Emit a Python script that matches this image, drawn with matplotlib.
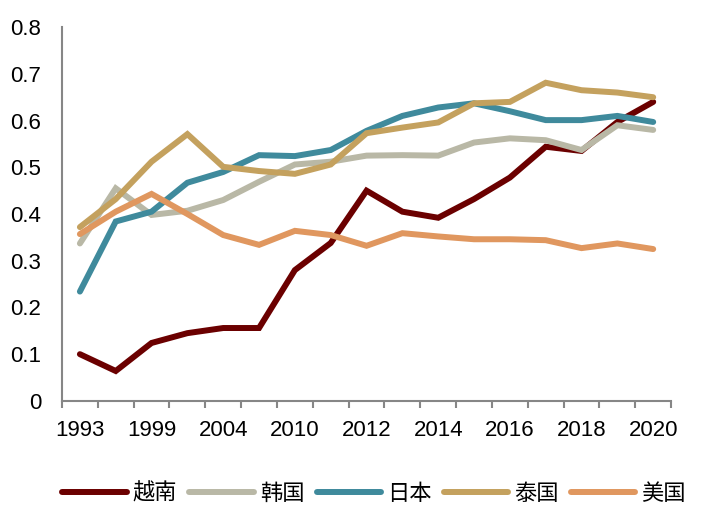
import numpy as np
import matplotlib
matplotlib.use('Agg')
import matplotlib.pyplot as plt

plt.rcParams['font.family'] = ['Liberation Sans', 'Noto Sans CJK SC', 'DejaVu Sans']

years = ['1993', '1996', '1999', '2002', '2004', '2007', '2010', '2011', '2012',
         '2013', '2014', '2015', '2016', '2017', '2018', '2019', '2020']
vietnam = [0.100, 0.064, 0.124, 0.145, 0.156, 0.156, 0.280, 0.338, 0.450,
           0.405, 0.392, 0.432, 0.478, 0.544, 0.535, 0.597, 0.640]
korea = [0.337, 0.455, 0.398, 0.407, 0.430, 0.469, 0.506, 0.512, 0.525,
         0.526, 0.525, 0.553, 0.562, 0.558, 0.537, 0.590, 0.580]
japan = [0.234, 0.384, 0.405, 0.467, 0.490, 0.526, 0.524, 0.537, 0.578,
         0.610, 0.628, 0.637, 0.620, 0.601, 0.601, 0.610, 0.597]
thailand = [0.372, 0.432, 0.512, 0.571, 0.501, 0.492, 0.486, 0.506, 0.573,
            0.585, 0.596, 0.637, 0.640, 0.681, 0.665, 0.660, 0.650]
usa = [0.357, 0.405, 0.443, 0.400, 0.355, 0.334, 0.364, 0.355, 0.332,
       0.359, 0.352, 0.346, 0.346, 0.344, 0.327, 0.337, 0.325]

names = ['越南', '韩国', '日本', '泰国', '美国']
colors = ['#6B0000', '#B9B8A6', '#3F8A9C', '#C4A15E', '#E0975F']
series = [vietnam, korea, japan, thailand, usa]

fig = plt.figure(figsize=(7.02, 5.22), dpi=100)
ax = fig.add_axes([0.0883, 0.232, 0.8677, 0.716])

x = np.arange(len(years))
for vals, name, c in zip(series, names, colors):
    ax.plot(x, vals, color=c, lw=4.3, label=name, solid_capstyle='round',
            solid_joinstyle='miter')

ax.set_xlim(-0.5, len(years) - 0.5)
ax.set_ylim(0, 0.8)
ax.set_yticks(np.arange(0, 0.81, 0.1))
ax.set_yticklabels(['0'] + ['%.1f' % v for v in np.arange(0.1, 0.81, 0.1)])
ax.set_xticks(x[::2])
ax.set_xticklabels(years[::2])
ax.set_xticks(np.arange(-0.5, len(years), 1), minor=True)

for s in ['top', 'right']:
    ax.spines[s].set_visible(False)
for s in ['left', 'bottom']:
    ax.spines[s].set_color('#868686')
    ax.spines[s].set_linewidth(1.5)

ax.tick_params(axis='y', length=0, pad=15, labelsize=16)
ax.tick_params(axis='x', which='major', length=0, pad=14, labelsize=16)
ax.tick_params(axis='x', which='minor', length=5, width=1.5, color='#868686',
               direction='out')

fig.legend(loc='center', bbox_to_anchor=(374 / 702, 1 - 494 / 522), ncol=5,
           frameon=False, fontsize=16, handlelength=2.9, handletextpad=0.27,
           columnspacing=0.55)

fig.savefig('out.png', dpi=100)
